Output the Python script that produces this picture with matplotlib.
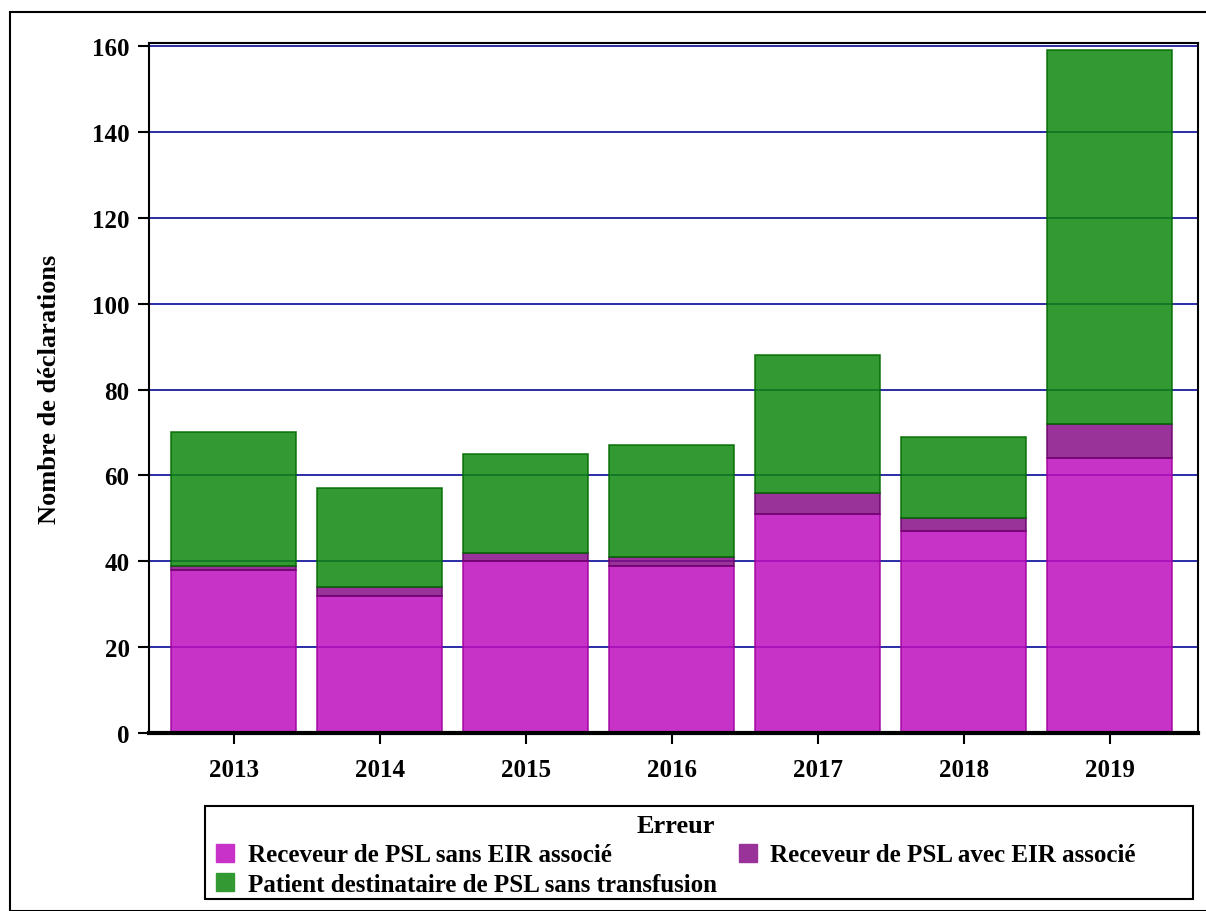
import matplotlib.pyplot as plt
import matplotlib.patches as mpatches
import numpy as np

years = ["2013", "2014", "2015", "2016", "2017", "2018", "2019"]
sans_eir = [38, 32, 40, 39, 51, 47, 64]
avec_eir = [1, 2, 2, 2, 5, 3, 8]
sans_transfusion = [31, 23, 23, 26, 32, 19, 87]

labels = ["Receveur de PSL sans EIR associé",
          "Receveur de PSL avec EIR associé",
          "Patient destinataire de PSL sans transfusion"]
# semi-transparent fills so the grid shows through the bars
colors = ["#be0ebe", "#870f87", "#0f870f"]
edges = ["#a000a0", "#6a006a", "#006a00"]
swatch = ["#c832c8", "#993399", "#339933"]

plt.rcParams['font.family'] = ['Liberation Serif', 'DejaVu Serif']
plt.rcParams['font.weight'] = 'bold'

fig = plt.figure(figsize=(12.06, 9.12), dpi=100)
ax = fig.add_axes([149/1206, 1 - 734/912, (1198-149)/1206, (734-44)/912])

x = np.arange(len(years))
w = 0.856
bottom = np.zeros(len(years))
for vals, c, ec in zip([sans_eir, avec_eir, sans_transfusion], colors, edges):
    ax.bar(x, vals, w, bottom=bottom, color=c, edgecolor=ec, linewidth=1.2,
           alpha=0.85, zorder=2)
    bottom += np.array(vals)

ax.set_xlim(-0.582, 6.603)
ax.set_ylim(0, 160.7)
ax.set_yticks(range(0, 161, 20))
ax.set_xticks(x)
ax.set_xticklabels(years)
ax.yaxis.grid(True, color="#1a1aa0", linewidth=1.3, zorder=1)
ax.set_axisbelow(True)

ax.tick_params(axis='both', labelsize=18, width=1.5, length=8, direction='out')
ax.tick_params(axis='x', pad=10)
ax.tick_params(axis='y', pad=6)
for s in ax.spines.values():
    s.set_linewidth(1.5)
ax.spines['bottom'].set_linewidth(3)
ax.set_ylabel("Nombre de déclarations", fontsize=19, fontweight='bold', labelpad=22)

# legend box drawn separately, entries placed inside it
fig.patches.append(mpatches.Rectangle((205/1206, 1 - 900/912), 988/1206, 93/912,
                                      transform=fig.transFigure, fill=False,
                                      edgecolor='black', linewidth=1.5))
handles = [mpatches.Patch(facecolor=c, edgecolor=c) for c in swatch]
order = [0, 2, 1]
leg = fig.legend([handles[i] for i in order], [labels[i] for i in order],
                 ncol=2, loc='upper left', bbox_to_anchor=(210/1206, 1 - 809/912),
                 title="Erreur", fontsize=18, title_fontsize=19, frameon=False,
                 handlelength=0.7, handleheight=0.7, handletextpad=0.55,
                 columnspacing=0.9, labelspacing=0.25, borderaxespad=0, borderpad=0.25)
leg.get_title().set_fontweight('bold')

fig.patches.append(mpatches.Rectangle((10/1206, 0), 1, 1 - 13/912, transform=fig.transFigure,
                                      fill=False, edgecolor='black', linewidth=1.5))

fig.savefig("out.png", dpi=100)
